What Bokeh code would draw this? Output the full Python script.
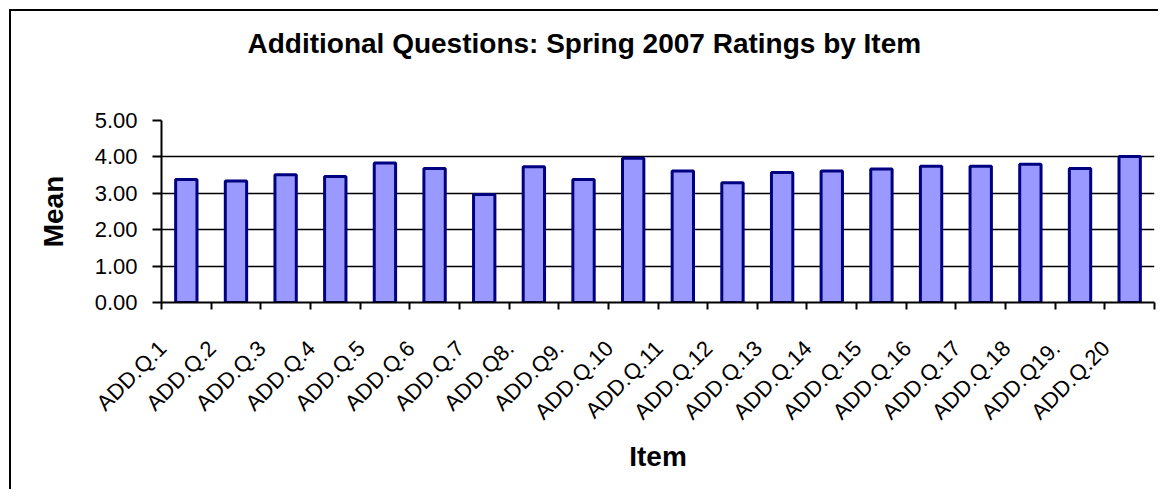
import math
from bokeh.plotting import figure
from bokeh.models import FixedTicker, Range1d, NumeralTickFormatter, Title
from bokeh.embed import file_html
from bokeh.resources import INLINE

# Survey items and their mean ratings
items = ["ADD.Q.1", "ADD.Q.2", "ADD.Q.3", "ADD.Q.4", "ADD.Q.5", "ADD.Q.6",
         "ADD.Q.7", "ADD.Q8.", "ADD.Q9.", "ADD.Q.10", "ADD.Q.11", "ADD.Q.12",
         "ADD.Q.13", "ADD.Q.14", "ADD.Q.15", "ADD.Q.16", "ADD.Q.17", "ADD.Q.18",
         "ADD.Q19.", "ADD.Q.20"]
means = [3.38, 3.34, 3.51, 3.46, 3.83, 3.68, 2.97, 3.73, 3.38, 3.96,
         3.61, 3.29, 3.57, 3.61, 3.67, 3.74, 3.74, 3.80, 3.68, 4.01]
y_ticks = [0, 1, 2, 3, 4, 5]
chart_title = "Additional Questions: Spring 2007 Ratings by Item"

FONT = "Liberation Sans"
n = len(items)
xs = list(range(n))

W, H = 1149, 480
FRAME_H = 182
p = figure(width=W, height=H,
           x_range=Range1d(-0.5, n - 0.5), y_range=Range1d(0, 5),
           output_backend="svg", toolbar_location=None,
           min_border_left=150, min_border_right=6,
           min_border_top=109, min_border_bottom=H - 109 - FRAME_H)
# chart-area frame on the left and top edges
p.styles = {"margin-left": "11px", "margin-top": "11px",
            "box-shadow": "-2px -2px 0px 0px #000"}
p.outline_line_color = None
p.background_fill_color = "white"
p.border_fill_color = "white"

# empty spacer between the plot area and the title, then the title itself
p.add_layout(Title(text=" ", text_font_size="1px", standoff=59), "above")
p.add_layout(Title(text=chart_title, text_font=FONT, text_font_size="28px",
                   text_font_style="bold", text_color="black",
                   align="left", offset=86, vertical_align="bottom",
                   standoff=0), "above")

p.vbar(x=xs, top=means, bottom=0, width=0.43,
       fill_color="#9999FF", line_color="#000080", line_width=3)

# x axis: ticks on category boundaries, slanted labels hung under each bar
label_shift = 0.48
label_pos = [i - label_shift for i in xs]
xa = p.xaxis[0]
xa.ticker = FixedTicker(ticks=label_pos,
                        minor_ticks=[i - 0.5 for i in range(n + 1)])
xa.major_label_overrides = {pos: lab for pos, lab in zip(label_pos, items)}
xa.major_label_orientation = math.pi / 4
xa.major_tick_out = 0
xa.major_tick_in = 0
xa.minor_tick_out = 7
xa.minor_tick_in = 0
xa.minor_tick_line_color = "black"
xa.minor_tick_line_width = 2
xa.axis_line_color = "black"
xa.axis_line_width = 2
xa.major_label_text_font = FONT
xa.major_label_text_font_size = "22px"
xa.major_label_text_color = "black"
xa.major_label_standoff = 35
xa.axis_label = "Item"
xa.axis_label_text_font = FONT
xa.axis_label_text_font_size = "28px"
xa.axis_label_text_font_style = "bold"
xa.axis_label_text_color = "black"
xa.axis_label_standoff = 5

ya = p.yaxis[0]
ya.ticker = FixedTicker(ticks=y_ticks)
ya.formatter = NumeralTickFormatter(format="0.00")
ya.major_tick_out = 9
ya.major_tick_in = 0
ya.minor_tick_out = 0
ya.minor_tick_in = 0
ya.major_tick_line_color = "black"
ya.major_tick_line_width = 2
ya.axis_line_color = "black"
ya.axis_line_width = 2
ya.major_label_text_font = FONT
ya.major_label_text_font_size = "22px"
ya.major_label_text_color = "black"
ya.major_label_standoff = 15
ya.axis_label = "Mean"
ya.axis_label_text_font = FONT
ya.axis_label_text_font_size = "28px"
ya.axis_label_text_font_style = "bold"
ya.axis_label_text_color = "black"
ya.axis_label_standoff = 23

p.xgrid.visible = False
p.ygrid.grid_line_color = "black"
p.ygrid.grid_line_width = 1.5

open("out.html", "w").write(file_html(p, INLINE))
